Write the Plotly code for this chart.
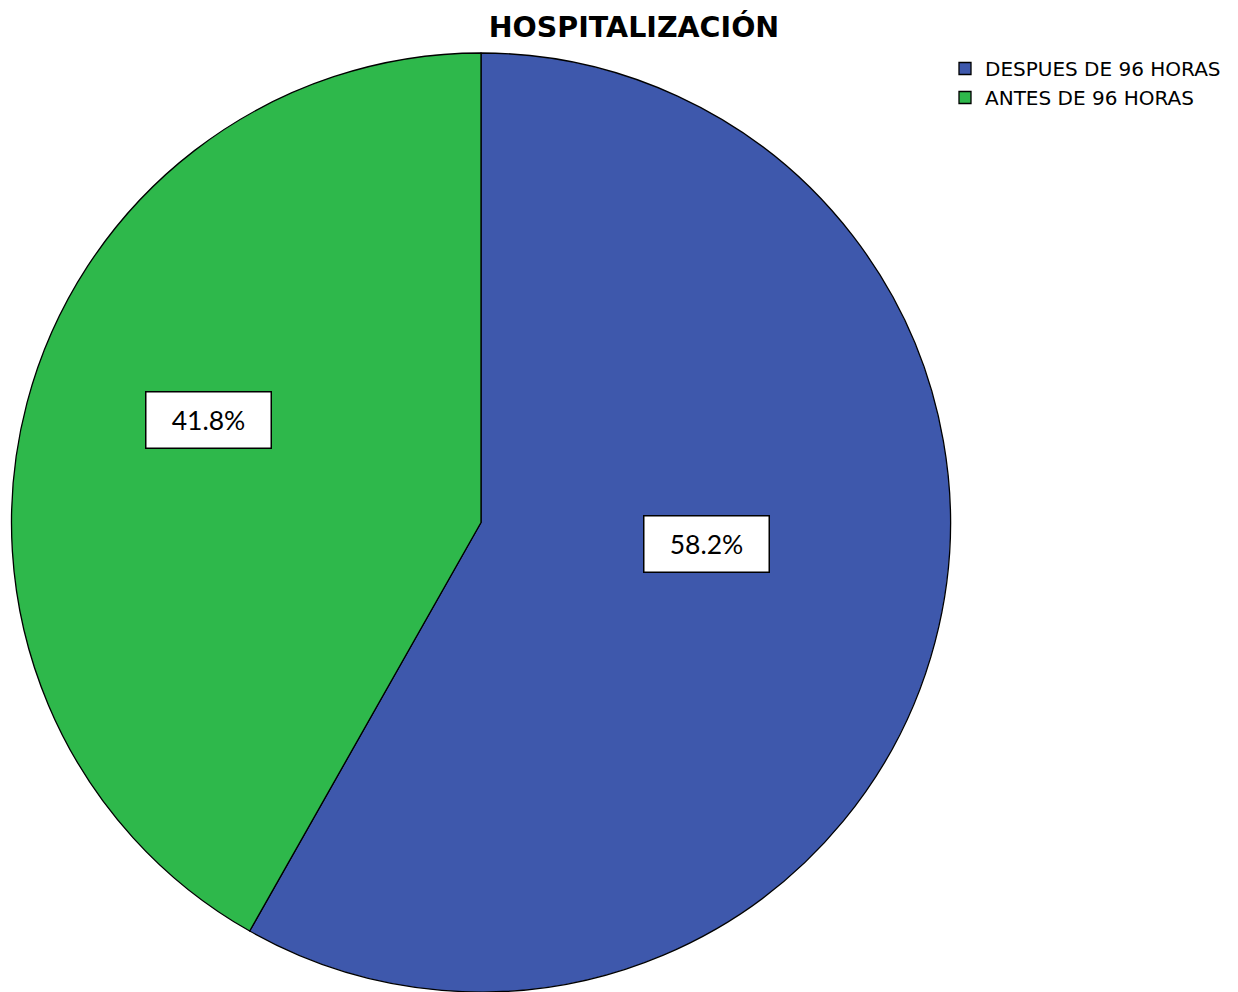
import plotly.graph_objects as go

titulo = "HOSPITALIZACIÓN"
categorias = ["DESPUES DE 96 HORAS", "ANTES DE 96 HORAS"]
porcentajes = [58.2, 41.8]
colores = ["#3e58ac", "#2eb84b"]

W, H = 1238, 992
# la página deja 8 px de margen en el body
OFF = 8

# posiciones de las etiquetas (pixeles de la imagen de referencia)
etiquetas_px = [(706, 543.5), (208.5, 420)]

fig = go.Figure()

fig.add_trace(
    go.Pie(
        labels=categorias,
        values=porcentajes,
        sort=False,
        direction="clockwise",
        rotation=0,
        marker=dict(
            colors=colores,
            line=dict(color="black", width=1.3)
        ),
        textinfo="none",
        hoverinfo="label+percent",
        domain=dict(
            x=[(9 - OFF) / W, (953 - OFF) / W],
            y=[1 - (992 - OFF) / H, 1 - (53 - OFF) / H]
        )
    )
)

anotaciones = []
for val, (px, py) in zip(porcentajes, etiquetas_px):
    anotaciones.append(
        dict(
            x=(px - OFF) / W,
            y=1 - (py - OFF) / H,
            xref="paper",
            yref="paper",
            xanchor="center",
            yanchor="middle",
            text=f"{val:.1f}%",
            showarrow=False,
            bgcolor="white",
            bordercolor="black",
            borderwidth=1.5,
            width=122,
            height=53,
            font=dict(family="Lato, Open Sans, sans-serif", size=26.5, color="black")
        )
    )

fig.update_layout(
    width=W,
    height=H,
    paper_bgcolor="white",
    plot_bgcolor="white",
    margin=dict(l=0, r=0, t=0, b=0),
    title=dict(
        text=f"<b>{titulo}</b>",
        x=(634 - OFF) / W,
        xanchor="center",
        y=1 - (27 - OFF) / H,
        yanchor="middle",
        font=dict(family="DejaVu Sans, sans-serif", size=28.5, color="black")
    ),
    showlegend=True,
    legend=dict(
        x=(945 - OFF) / W,
        y=1 - (49 - OFF) / H,
        xanchor="left",
        yanchor="top",
        font=dict(family="DejaVu Sans, sans-serif", size=20, color="black"),
        itemwidth=30,
        tracegroupgap=0
    ),
    annotations=anotaciones
)

fig.write_html("out.html")
